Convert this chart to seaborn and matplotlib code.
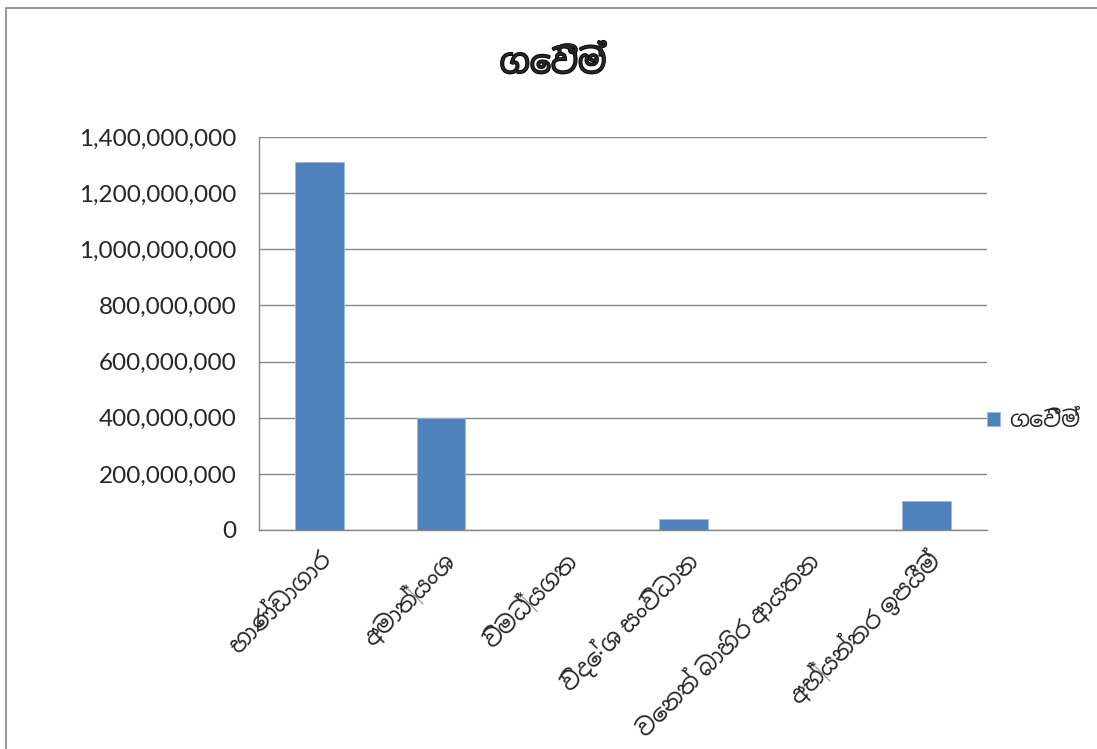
import pandas as pd
import numpy as np
import matplotlib
matplotlib.use("Agg")
import matplotlib.pyplot as plt
import matplotlib.ticker as mticker
import matplotlib.patheffects as pe
from matplotlib import font_manager
import seaborn as sns

categories = ["භාණ්ඩාගාර", "අමාත්‍යංශ", "විමධ්‍යගත", "විදේශ සංවිධාන",
              "වෙනත් බාහිර ආයතන", "අභ්‍යන්තර ඉපයීම්"]
payments = [1312000000, 400000000, 0, 40000000, 0, 103000000]
series_name = "ගෙවීම්"
yticks = [0, 200000000, 400000000, 600000000, 800000000,
          1000000000, 1200000000, 1400000000]

data = pd.DataFrame({"category": categories, "value": payments})

sns.set_theme(style="white")
# any installed font that can draw Sinhala
sinhala = sorted({f.name for f in font_manager.fontManager.ttflist
                  if "sinhala" in f.name.lower() or "iskoola" in f.name.lower()})
plt.rcParams["font.family"] = ["Lato"] + sinhala + ["DejaVu Sans"]

fig = plt.figure(figsize=(10.97, 7.49), dpi=100)
ax = fig.add_axes([259 / 1097, 1 - 530 / 749, (987 - 259) / 1097, (530 - 137) / 749])

sns.barplot(data=data, x="category", y="value", color="#4f81bd", width=0.4,
            saturation=1, ax=ax, label=series_name, edgecolor="#9dbbe0", linewidth=0.6)

ax.set_ylim(0, 1400000000)
ax.set_yticks(yticks)
ax.yaxis.set_major_formatter(mticker.FuncFormatter(lambda v, p: f"{int(v):,}"))
ax.set_xlim(-0.5, len(categories) - 0.5)
ax.set_xticks(np.arange(-0.5, len(categories)), minor=True)
ax.tick_params(axis="x", which="major", length=0, pad=12)
ax.tick_params(axis="x", which="minor", length=7, width=1, color="#868686", direction="out")
ax.tick_params(axis="y", length=7, width=1, color="#868686", direction="out",
               labelsize=17.5, pad=9)
ax.set_xticklabels(categories, rotation=45, ha="right", rotation_mode="anchor", fontsize=17)
ax.grid(axis="y", color="#868686", linewidth=1)
ax.set_axisbelow(True)
for s in ["top", "right"]:
    ax.spines[s].set_visible(False)
for s in ["left", "bottom"]:
    ax.spines[s].set_color("#868686")
    ax.spines[s].set_linewidth(1)
ax.set_xlabel("")
ax.set_ylabel("")

fig.text(553 / 1097, 1 - 62 / 749, series_name, ha="center", va="center",
         fontsize=24, fontweight="bold",
         path_effects=[pe.withStroke(linewidth=1.2, foreground="black")])

ax.legend(loc="center left", bbox_to_anchor=(0.972, 0.28), frameon=False,
          fontsize=16, handlelength=0.6, handleheight=0.6, handletextpad=0.4)

# outer chart border (only top and left visible in the crop)
fig.patches.append(plt.Rectangle((6 / 1097, -0.1), 1.2, 1 - 8 / 749 + 0.1,
                                 transform=fig.transFigure, fill=False,
                                 edgecolor="#868686", linewidth=1.2))

fig.savefig("out.png", dpi=100)
